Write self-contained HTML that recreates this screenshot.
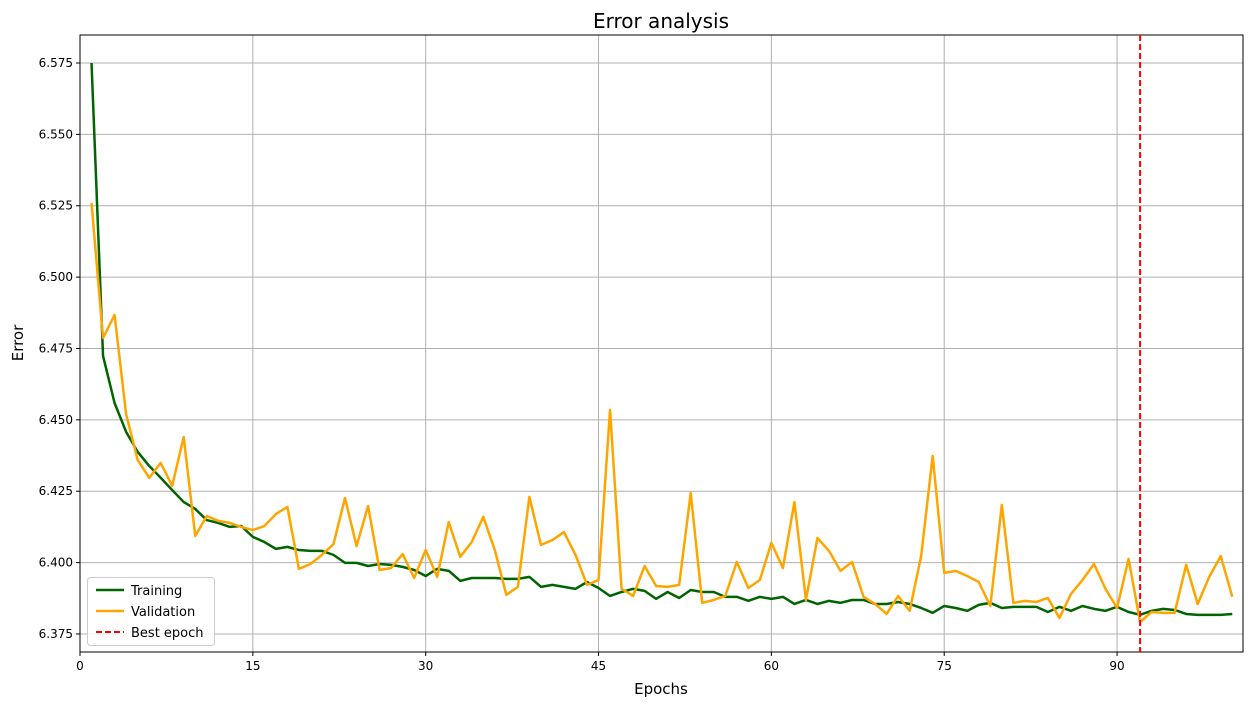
<!DOCTYPE html>
<html><head><meta charset="utf-8"><style>
body{margin:0;background:#fff;}
svg text{font-family:"DejaVu Sans","Liberation Sans",sans-serif;}
</style></head><body>
<svg id="chart" width="1256" height="706" xmlns="http://www.w3.org/2000/svg">
<rect width="1256" height="706" fill="#fff"/>
<text x="661" y="28" font-size="20" text-anchor="middle">Error analysis</text>
<g id="grid"></g><g id="axes"></g><g id="series"></g>
<text x="661" y="694" font-size="15" text-anchor="middle">Epochs</text>
<text x="0" y="0" font-size="15" text-anchor="middle" transform="translate(23,343) rotate(-90)">Error</text>
<g>
<rect x="87.5" y="577.5" width="127" height="68" rx="3" fill="#fff" fill-opacity="0.85" stroke="#ccc"/>
<line x1="96" y1="590" x2="124" y2="590" stroke="#006400" stroke-width="2.5"/>
<text x="131" y="595" font-size="13">Training</text>
<line x1="96" y1="611" x2="124" y2="611" stroke="#FFA500" stroke-width="2.5"/>
<text x="131" y="616" font-size="13">Validation</text>
<line x1="96" y1="632" x2="124" y2="632" stroke="#ff0000" stroke-width="2" stroke-dasharray="6,3"/>
<text x="131" y="637" font-size="13">Best epoch</text>
</g>
</svg>
<script>
const xTicks=[0,15,30,45,60,75,90];
const yTicks=[6.375,6.400,6.425,6.450,6.475,6.500,6.525,6.550,6.575];
const training=[6.5750,6.4724,6.4559,6.4458,6.4388,6.4339,6.4297,6.4254,6.4212,6.4188,6.4149,6.4139,6.4125,6.4128,6.4090,6.4072,6.4048,6.4055,6.4044,6.4041,6.4041,6.4027,6.3999,6.3999,6.3988,6.3995,6.3992,6.3985,6.3974,6.3953,6.3978,6.3971,6.3936,6.3946,6.3946,6.3946,6.3943,6.3943,6.3950,6.3915,6.3922,6.3915,6.3908,6.3932,6.3911,6.3883,6.3897,6.3908,6.3901,6.3873,6.3897,6.3876,6.3904,6.3897,6.3897,6.3880,6.3880,6.3866,6.3880,6.3873,6.3880,6.3855,6.3869,6.3855,6.3866,6.3859,6.3869,6.3869,6.3855,6.3855,6.3862,6.3855,6.3841,6.3824,6.3848,6.3841,6.3831,6.3852,6.3859,6.3841,6.3845,6.3845,6.3845,6.3827,6.3845,6.3831,6.3848,6.3838,6.3831,6.3845,6.3827,6.3817,6.3831,6.3838,6.3834,6.3820,6.3817,6.3817,6.3817,6.3820];
const validation=[6.5260,6.4787,6.4867,6.4521,6.4360,6.4297,6.4349,6.4269,6.4440,6.4093,6.4163,6.4146,6.4139,6.4125,6.4114,6.4128,6.4170,6.4195,6.3978,6.3995,6.4027,6.4065,6.4226,6.4058,6.4198,6.3974,6.3981,6.4030,6.3946,6.4044,6.3950,6.4142,6.4020,6.4072,6.4160,6.4044,6.3887,6.3915,6.4230,6.4062,6.4079,6.4107,6.4027,6.3922,6.3939,6.4535,6.3908,6.3883,6.3988,6.3918,6.3915,6.3922,6.4244,6.3859,6.3869,6.3883,6.4002,6.3911,6.3939,6.4069,6.3981,6.4212,6.3869,6.4086,6.4041,6.3971,6.4002,6.3880,6.3855,6.3820,6.3883,6.3831,6.4023,6.4374,6.3964,6.3971,6.3953,6.3932,6.3848,6.4202,6.3859,6.3866,6.3862,6.3876,6.3806,6.3890,6.3939,6.3995,6.3908,6.3841,6.4013,6.3792,6.3827,6.3824,6.3824,6.3992,6.3855,6.3950,6.4023,6.3880];
const bestEpoch=[92];
const L=80,R=1243,T=35,B=652;
const X0=0,X1=100.93,Y0=6.36868,Y1=6.58481;
const sx=v=>L+(v-X0)/(X1-X0)*(R-L);
const sy=v=>B-(v-Y0)/(Y1-Y0)*(B-T);
const NS='http://www.w3.org/2000/svg';
function mk(tag,attrs,parent){const e=document.createElementNS(NS,tag);for(const k in attrs)e.setAttribute(k,attrs[k]);parent.appendChild(e);return e;}
const grid=document.getElementById('grid'),axes=document.getElementById('axes'),series=document.getElementById('series');
xTicks.forEach(t=>{const x=sx(t);
 const g=mk('line',{x1:x,x2:x,y1:T,y2:B,stroke:'#b0b0b0','stroke-width':1},grid);
 
 
 mk('line',{x1:x,x2:x,y1:B,y2:B+4,stroke:'#000'},axes);
 const tx=mk('text',{x:x,y:B+18,'font-size':12,'text-anchor':'middle'},axes);tx.textContent=t;
 
 
});
yTicks.forEach(t=>{const y=sy(t);
 const g=mk('line',{x1:L,x2:R,y1:y,y2:y,stroke:'#b0b0b0','stroke-width':1},grid);
 
 
 mk('line',{x1:L-4,x2:L,y1:y,y2:y,stroke:'#000'},axes);
 const tx=mk('text',{x:L-7,y:y+4,'font-size':12,'text-anchor':'end'},axes);tx.textContent=t.toFixed(3);
 
 
});
const frame=mk('rect',{x:L,y:T,width:R-L,height:B-T,fill:'none',stroke:'#000','stroke-width':1},axes);


function line(arr,color,name){
 const p=mk('polyline',{points:arr.map((v,i)=>sx(i+1)+','+sy(v)).join(' '),fill:'none',stroke:color,'stroke-width':2.5,'stroke-linejoin':'round'},series);
 
 
}
line(training,'#006400','training-line');
line(validation,'#FFA500','validation-line');
bestEpoch.forEach(b=>{
 const l=mk('line',{x1:sx(b),x2:sx(b),y1:T,y2:B,stroke:'#ff0000','stroke-width':2,'stroke-dasharray':'6,3'},series);
 
 
});
</script>
</body></html>
